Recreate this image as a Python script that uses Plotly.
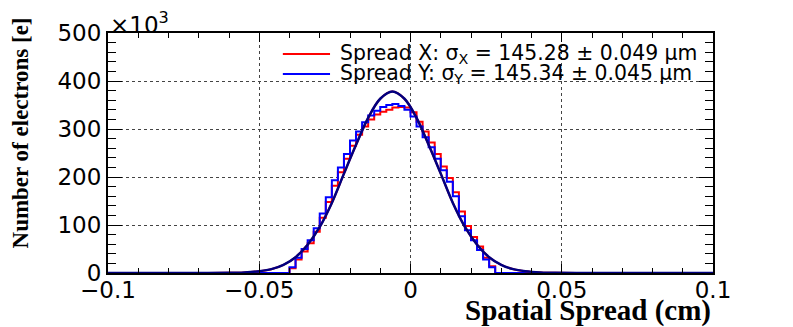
import numpy as np
import plotly.graph_objects as go

# histogram binning (cm)
hist_lo = -0.040
bin_width = 0.002

# electrons per bin, x10^3
spread_x = [10, 28, 45, 62, 86, 115, 148, 182, 210, 238, 265, 288, 305, 320, 330, 336, 340,
            345, 346, 345, 335, 315, 295, 272, 248, 222, 198, 168, 128, 98, 75, 55, 32, 14]
spread_y = [12, 32, 50, 68, 93, 124, 158, 193, 220, 248, 276, 295, 314, 328, 338, 346, 350,
            352, 348, 340, 326, 305, 283, 262, 238, 214, 190, 160, 118, 89, 68, 48, 28, 12]

# gaussian fit curve
fit_x = [-0.100, -0.070, -0.060, -0.055, -0.050, -0.046, -0.042, -0.038, -0.034, -0.030,
         -0.026, -0.022, -0.018, -0.014, -0.010, -0.006, -0.002, 0.002, 0.006, 0.010,
         0.014, 0.018, 0.022, 0.026, 0.030, 0.034, 0.038, 0.043, 0.048, 0.058, 0.100]
fit_y = [0, 0, 0.3, 1.3, 3.8, 8, 17, 33, 59, 96,
         146, 207, 267, 323, 363, 378, 363, 323, 267, 207,
         146, 96, 59, 33, 17, 8, 3.8, 1.3, 0.3, 0, 0]

x_range = [-0.1, 0.1]
y_range = [0, 500]

legend_x = "Spread X: σ<sub>X</sub> = 145.28 ± 0.049 µm"
legend_y = "Spread Y: σ<sub>Y</sub> = 145.34 ± 0.045 µm"


def step_xy(values):
    edges = hist_lo + bin_width * np.arange(len(values) + 1)
    xs = [x_range[0]] + list(edges) + [x_range[1]]
    ys = [0] + list(values) + [0, 0]
    return xs, ys


fig = go.Figure()

for vals, col in [(spread_x, "#ff0000"), (spread_y, "#0000ff")]:
    xs, ys = step_xy(vals)
    fig.add_trace(go.Scatter(
        x=xs, y=ys, mode="lines", line=dict(color=col, width=2, shape="hv"),
        showlegend=False, hoverinfo="skip",
    ))

fig.add_trace(go.Scatter(
    x=fit_x, y=fit_y, mode="lines", line=dict(color="#ff0000", width=2, shape="spline"),
    showlegend=False,
))
fig.add_trace(go.Scatter(
    x=fit_x, y=fit_y, mode="lines", line=dict(color="#000080", width=2.5, shape="spline"),
    showlegend=False,
))

tick_font = dict(family="DejaVu Sans", size=23, color="black")
serif_bold = dict(family="Liberation Serif", color="black", weight="bold")

fig.update_xaxes(
    range=x_range, dtick=0.05, tick0=0, ticks="inside", ticklen=9, tickwidth=1,
    tickcolor="black", minor=dict(dtick=0.01, ticks="inside", ticklen=5, tickcolor="black"),
    showline=True, linecolor="black", linewidth=2, mirror="allticks",
    showgrid=True, gridcolor="#444444", griddash="dot", gridwidth=1,
    zeroline=False, tickfont=tick_font, ticklabelstandoff=-5,
)
fig.update_yaxes(
    range=y_range, dtick=100, ticks="inside", ticklen=14, tickwidth=1,
    tickcolor="black", minor=dict(dtick=20, ticks="inside", ticklen=8, tickcolor="black"),
    showline=True, linecolor="black", linewidth=2, mirror="allticks",
    showgrid=True, gridcolor="#444444", griddash="dot", gridwidth=1,
    zeroline=False, tickfont=tick_font,
)

# legend drawn by hand, ROOT style
for ypos, col, txt in [(0.913, "#ff0000", legend_x), (0.829, "#0000ff", legend_y)]:
    fig.add_shape(type="line", xref="paper", yref="paper", x0=0.289, x1=0.367,
                  y0=ypos, y1=ypos, line=dict(color=col, width=2))
    fig.add_annotation(xref="paper", yref="paper", x=0.380, y=ypos, text=txt,
                       showarrow=False, xanchor="left", yanchor="middle",
                       font=dict(family="DejaVu Sans", size=20.4, color="black"))

fig.add_annotation(xref="paper", yref="paper", x=0.0, y=1.043, text="×10<sup>3</sup>",
                   showarrow=False, xanchor="left", yanchor="middle", font=tick_font)
fig.add_annotation(xref="paper", yref="paper", x=-0.144, y=0.585,
                   text="Number of electrons [e]", textangle=-90, showarrow=False,
                   xanchor="center", yanchor="middle", font=dict(size=23, **serif_bold))
fig.add_annotation(xref="paper", yref="paper", x=1.0, y=-0.155,
                   text="Spatial Spread (cm)", showarrow=False,
                   xanchor="right", yanchor="middle", font=dict(size=29, **serif_bold))

# page body adds an 8px offset, so the figure is sized to fit inside the window
fig.update_layout(
    width=785, height=319,
    margin=dict(l=100, r=80, t=25, b=54),
    plot_bgcolor="white", paper_bgcolor="white",
    showlegend=False,
)

fig.write_html("out.html")
